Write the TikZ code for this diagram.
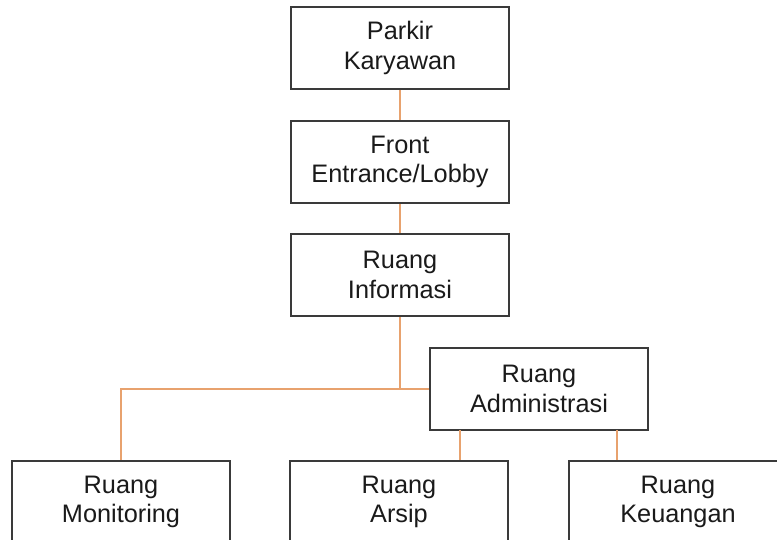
\documentclass[tikz,border=0pt]{standalone}
\usepackage{fontspec}
\setmainfont{Liberation Sans}
\definecolor{linkc}{HTML}{E8A26E}
\definecolor{boxc}{HTML}{3A3A3A}
\definecolor{txtc}{HTML}{1A1A1A}
\begin{document}
\begin{tikzpicture}[x=1pt,y=-1pt,
  roombox/.style={draw=boxc,line width=1.6pt,fill=white,rectangle,minimum width=218pt,minimum height=82pt,inner sep=0pt,align=center,text=txtc,font=\fontsize{25.3}{29.5}\selectfont},
  link/.style={draw=linkc,line width=1.8pt}]
\useasboundingbox (0,0) rectangle (777,540);
\clip (0,0) rectangle (777,540);
\fill[white] (0,0) rectangle (777,540);
\node[roombox] (parkir) at (400,48) {Parkir\\Karyawan};
\node[roombox] (front) at (400,162) {Front\\Entrance/Lobby};
\node[roombox] (info) at (400,275) {Ruang\\Informasi};
\node[roombox] (admin) at (539,389) {Ruang\\Administrasi};
\node[roombox] (mon) at (121,502) {Ruang\\Monitoring};
\node[roombox] (arsip) at (399,502) {Ruang\\Arsip};
\node[roombox] (keu) at (678,502) {Ruang\\Keuangan};
\coordinate (j) at (400,389);
\coordinate (m) at (121,389);
\coordinate (a1) at (460,430);
\coordinate (a2) at (617,430);
\draw[link] (parkir.south) -- (front.north);
\draw[link] (front.south) -- (info.north);
\draw[link] (info.south) -- (j);
\draw[link] (admin.west) -- (m) -- (mon.north);
\draw[link] (a1) -- (a1 |- arsip.north);
\draw[link] (a2) -- (a2 |- keu.north);
\end{tikzpicture}
\end{document}
